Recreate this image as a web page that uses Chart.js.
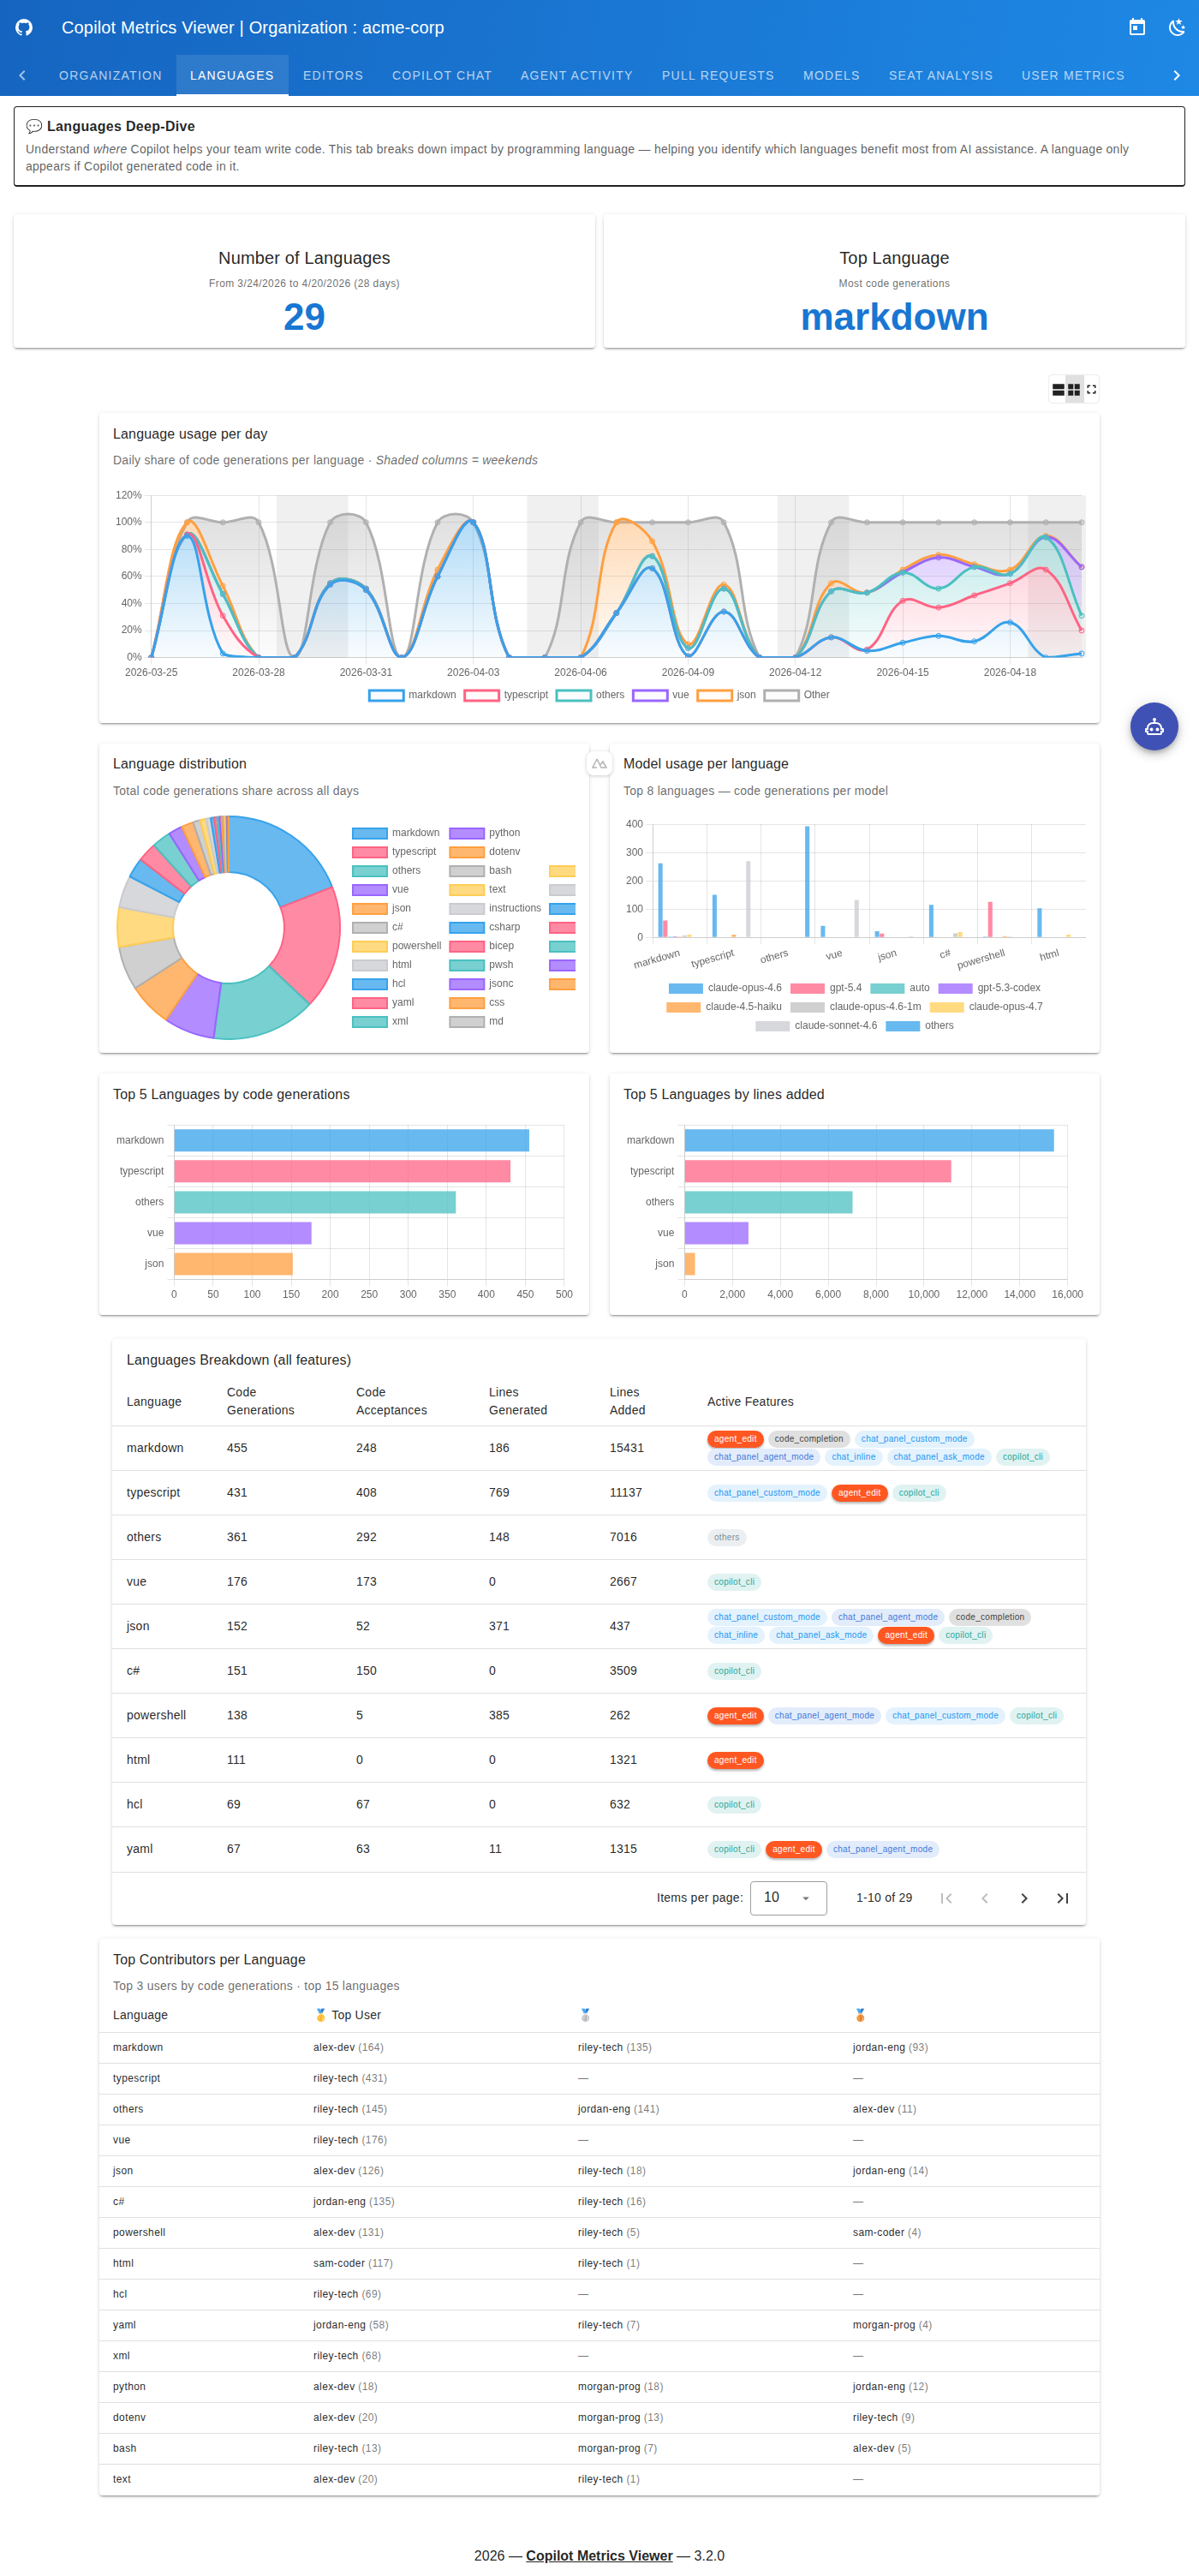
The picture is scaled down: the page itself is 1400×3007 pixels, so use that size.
<!DOCTYPE html>
<html>
<head>
<meta charset="utf-8">
<title>Copilot Metrics Viewer</title>
<script src="https://cdn.jsdelivr.net/npm/chart.js@4"></script>
<style>
html, body { margin: 0; padding: 0; background: #fff; }
body { position: relative; width: 1400px; height: 3007px; overflow: hidden; font-family: "Liberation Sans", sans-serif; color: rgba(0,0,0,.87); }
.abs { position: absolute; white-space: nowrap; }
.card { position: absolute; background: #fff; border-radius: 4px; box-shadow: 0 3px 1px -2px rgba(0,0,0,.2), 0 2px 2px 0 rgba(0,0,0,.14), 0 1px 5px 0 rgba(0,0,0,.12); }
.title { position: absolute; white-space: nowrap; font-size: 16px; letter-spacing: .15px; line-height: 24px; transform: translateY(-12px); }
.sub { position: absolute; white-space: nowrap; font-size: 14px; letter-spacing: .25px; line-height: 20px; color: rgba(0,0,0,.6); transform: translateY(-10px); }
canvas { position: absolute; }
#appbar { position: absolute; left: 0; top: 0; width: 1400px; height: 112px; background: linear-gradient(100deg, #1565c0, #1e88e5); }
.tab { position: absolute; top: 64px; height: 48px; line-height: 49px; font-size: 14px; font-weight: 400; letter-spacing: 1.25px; color: rgba(255,255,255,.7); white-space: nowrap; }
svg.ic { position: absolute; fill: currentColor; }
.kpi-t { position: absolute; text-align: center; font-size: 20px; line-height: 28px; letter-spacing: .15px; }
.kpi-s { position: absolute; text-align: center; font-size: 12px; line-height: 16px; color: rgba(0,0,0,.6); letter-spacing: .4px; }
.kpi-v { position: absolute; text-align: center; font-size: 44px; line-height: 56px; font-weight: 700; color: #1976d2; }
.row-line { position: absolute; height: 1px; background: #e0e0e0; }
.cell { position: absolute; white-space: nowrap; font-size: 14px; line-height: 20px; letter-spacing: .25px; }
.chips { position: absolute; left: 826px; width: 430px; display: flex; flex-wrap: wrap; gap: 1px 5px; }
.chip { height: 20px; line-height: 20px; padding: 0 8px; border-radius: 10px; font-size: 10px; letter-spacing: .3px; white-space: nowrap; box-sizing: border-box; }
.c2 { position: absolute; white-space: nowrap; font-size: 12px; line-height: 16px; letter-spacing: .4px; }
.c2 span { color: rgba(0,0,0,.55); }
</style>
</head>
<body>

<div id="appbar" style="color:#fff">
  <svg class="ic" style="left:16px;top:20px" width="24" height="24" viewBox="0 0 24 24"><path d="M12,2A10,10 0 0,0 2,12C2,16.42 4.87,20.17 8.84,21.5C9.34,21.58 9.5,21.27 9.5,21C9.5,20.77 9.5,20.14 9.5,19.31C6.73,19.91 6.14,17.97 6.14,17.97C5.68,16.81 5.03,16.5 5.03,16.5C4.12,15.88 5.1,15.9 5.1,15.9C6.1,15.97 6.63,16.93 6.63,16.93C7.5,18.45 8.97,18 9.54,17.76C9.63,17.11 9.89,16.67 10.17,16.42C7.95,16.17 5.62,15.31 5.62,11.5C5.62,10.39 6,9.5 6.65,8.79C6.55,8.54 6.2,7.5 6.75,6.15C6.75,6.15 7.59,5.88 9.5,7.17C10.29,6.95 11.15,6.84 12,6.84C12.85,6.84 13.71,6.95 14.5,7.17C16.41,5.88 17.25,6.15 17.25,6.15C17.8,7.5 17.45,8.54 17.35,8.79C18,9.5 18.38,10.39 18.38,11.5C18.38,15.32 16.04,16.16 13.81,16.41C14.17,16.72 14.5,17.33 14.5,18.26C14.5,19.6 14.5,20.68 14.5,21C14.5,21.27 14.66,21.59 15.17,21.5C19.14,20.16 22,16.42 22,12A10,10 0 0,0 12,2Z"/></svg>
  <div class="abs" style="left:72px;top:18px;font-size:20px;line-height:28px;letter-spacing:.15px">Copilot Metrics Viewer | Organization : acme-corp</div>
  <svg class="ic" style="left:1316px;top:20px" width="24" height="24" viewBox="0 0 24 24"><path d="M7,10H12V15H7M19,19H5V8H19M19,3H18V1H16V3H8V1H6V3H5C3.89,3 3,3.9 3,5V19A2,2 0 0,0 5,21H19A2,2 0 0,0 21,19V5A2,2 0 0,0 19,3Z"/></svg>
  <svg class="ic" style="left:1363px;top:20px" width="24" height="24" viewBox="0 0 24 24"><path d="M17.75,4.09L15.22,6.03L16.13,9.09L13.5,7.28L10.87,9.09L11.78,6.03L9.25,4.09L12.44,4L13.5,1L14.56,4L17.75,4.09M21.25,11L19.61,12.25L20.2,14.23L18.5,13.06L16.8,14.23L17.39,12.25L15.75,11L17.81,10.95L18.5,9L19.19,10.95L21.25,11M18.97,15.95C19.8,15.87 20.69,17.05 20.16,17.8C19.84,18.25 19.5,18.67 19.08,19.07C15.17,23 8.84,23 4.94,19.07C1.03,15.17 1.03,8.83 4.94,4.93C5.34,4.53 5.76,4.17 6.21,3.85C6.96,3.32 8.14,4.21 8.06,5.04C7.79,7.9 8.75,10.87 10.95,13.06C13.14,15.26 16.1,16.22 18.97,15.95M17.33,17.97C14.5,17.81 11.7,16.64 9.53,14.5C7.36,12.31 6.2,9.5 6.04,6.68C3.23,9.82 3.34,14.64 6.35,17.66C9.37,20.67 14.19,20.78 17.33,17.97Z"/></svg>
  <div style="position:absolute;left:206px;top:64px;width:131px;height:46px;background:rgba(255,255,255,.1);border-bottom:2px solid #fff"></div>
  <svg class="ic" style="left:14px;top:76px;color:rgba(255,255,255,.6)" width="24" height="24" viewBox="0 0 24 24"><path d="M15.41,16.58L10.83,12L15.41,7.41L14,6L8,12L14,18L15.41,16.58Z"/></svg>
  <svg class="ic" style="left:1362px;top:76px" width="24" height="24" viewBox="0 0 24 24"><path d="M8.59,16.58L13.17,12L8.59,7.41L10,6L16,12L10,18L8.59,16.58Z"/></svg>
  <div id="tabs"></div>
</div>

<div style="position:absolute;left:16px;top:124px;width:1366px;height:91px;border:1px solid #212121;border-bottom-width:2px;border-radius:4px">
  <div class="abs" style="left:13px;top:11px;font-size:16px;line-height:24px;font-weight:700;letter-spacing:.3px">💬 Languages Deep-Dive</div>
  <div class="abs" style="left:13px;top:39px;width:1340px;white-space:normal;font-size:14px;line-height:20px;letter-spacing:.25px;color:rgba(0,0,0,.65)">Understand <i>where</i> Copilot helps your team write code. This tab breaks down impact by programming language — helping you identify which languages benefit most from AI assistance. A language only appears if Copilot generated code in it.</div>
</div>

<div class="card" style="left:16px;top:250px;width:679px;height:156px"></div>
<div class="card" style="left:705px;top:250px;width:679px;height:156px"></div>
<div class="kpi-t" style="left:16px;top:287px;width:679px">Number of Languages</div>
<div class="kpi-s" style="left:16px;top:323px;width:679px">From 3/24/2026 to 4/20/2026 (28 days)</div>
<div class="kpi-v" style="left:16px;top:342px;width:679px">29</div>
<div class="kpi-t" style="left:705px;top:287px;width:679px">Top Language</div>
<div class="kpi-s" style="left:705px;top:323px;width:679px">Most code generations</div>
<div class="kpi-v" style="left:705px;top:342px;width:679px">markdown</div>

<div style="position:absolute;left:1225px;top:438px;width:58px;height:32px;border-radius:4px;box-shadow:0 0 2px rgba(0,0,0,.25);color:#212121">
  <div style="position:absolute;left:19px;top:0;width:22px;height:32px;background:#e0e0e0"></div>
  <svg class="ic" style="left:2px;top:8px" width="18" height="18" viewBox="0 0 24 24"><path d="M3 3h18v8H3zm0 10h18v8H3z"/></svg>
  <svg class="ic" style="left:20px;top:8px" width="18" height="18" viewBox="0 0 24 24"><path d="M3 3h8v8H3zm10 0h8v8h-8zM3 13h8v8H3zm10 0h8v8h-8z"/></svg>
  <svg class="ic" style="left:41px;top:8px" width="17" height="17" viewBox="0 0 24 24"><path d="M5,5H10V7H7V10H5V5M14,5H19V10H17V7H14V5M17,14H19V19H14V17H17V14M10,17V19H5V14H7V17H10Z"/></svg>
</div>

<div class="card" style="left:116px;top:482px;width:1168px;height:362px"></div>
<div class="title" style="left:132px;top:507px">Language usage per day</div>
<div class="sub" style="left:132px;top:537px">Daily share of code generations per language · <i>Shaded columns = weekends</i></div>
<canvas id="usageChart" style="left:132px;top:568px;width:1136px;height:260px" width="1136" height="260"></canvas>

<div class="card" style="left:116px;top:868px;width:572px;height:361px"></div>
<div class="title" style="left:132px;top:892px">Language distribution</div>
<div class="sub" style="left:132px;top:923px">Total code generations share across all days</div>
<canvas id="distChart" style="left:132px;top:952px;width:540px;height:262px" width="540" height="262"></canvas>

<div class="card" style="left:712px;top:868px;width:572px;height:361px"></div>
<div class="title" style="left:728px;top:892px">Model usage per language</div>
<div class="sub" style="left:728px;top:923px">Top 8 languages — code generations per model</div>
<canvas id="modelChart" style="left:728px;top:952px;width:540px;height:262px" width="540" height="262"></canvas>

<div style="position:absolute;left:685px;top:877px;width:30px;height:28px;background:#fff;border-radius:8px;box-shadow:0 1px 4px rgba(0,0,0,.2)">
  <svg style="position:absolute;left:6px;top:7px" width="18" height="14" viewBox="0 0 18 14" fill="none" stroke="#b5b5b5" stroke-width="1.6"><path d="M6 2 L1 12 H6 M6 2 L11 12 H17 L13 5 L9.5 9.5"/></svg>
</div>

<div class="card" style="left:116px;top:1253px;width:572px;height:282px"></div>
<div class="title" style="left:132px;top:1278px">Top 5 Languages by code generations</div>
<canvas id="topGenChart" style="left:132px;top:1302px;width:540px;height:220px" width="540" height="220"></canvas>

<div class="card" style="left:712px;top:1253px;width:572px;height:282px"></div>
<div class="title" style="left:728px;top:1278px">Top 5 Languages by lines added</div>
<canvas id="topLinesChart" style="left:728px;top:1302px;width:540px;height:220px" width="540" height="220"></canvas>

<div class="card" style="left:131px;top:1563px;width:1137px;height:684px"></div>
<div class="title" style="left:148px;top:1588px">Languages Breakdown (all features)</div>
<div id="breakdown"></div>

<div class="abs" style="left:767px;top:2205px;font-size:14px;line-height:20px;letter-spacing:.25px">Items per page:</div>
<div style="position:absolute;left:876px;top:2196px;width:88px;height:38px;border:1px solid #9e9e9e;border-radius:4px"></div>
<div class="abs" style="left:892px;top:2204px;font-size:16px;line-height:22px">10</div>
<svg class="ic" style="left:932px;top:2206px;color:#757575" width="18" height="20" viewBox="0 0 24 24"><path d="M7,10L12,15L17,10H7Z"/></svg>
<div class="abs" style="left:1000px;top:2205px;font-size:14px;line-height:20px;letter-spacing:.25px">1-10 of 29</div>
<svg class="ic" style="left:1093px;top:2204px;color:#bdbdbd" width="24" height="24" viewBox="0 0 24 24"><path d="M18.41,16.59L13.82,12L18.41,7.41L17,6L11,12L17,18L18.41,16.59M6,6H8V18H6V6Z"/></svg>
<svg class="ic" style="left:1138px;top:2204px;color:#bdbdbd" width="24" height="24" viewBox="0 0 24 24"><path d="M15.41,16.58L10.83,12L15.41,7.41L14,6L8,12L14,18L15.41,16.58Z"/></svg>
<svg class="ic" style="left:1184px;top:2204px;color:#424242" width="24" height="24" viewBox="0 0 24 24"><path d="M8.59,16.58L13.17,12L8.59,7.41L10,6L16,12L10,18L8.59,16.58Z"/></svg>
<svg class="ic" style="left:1229px;top:2204px;color:#424242" width="24" height="24" viewBox="0 0 24 24"><path d="M5.59,7.41L10.18,12L5.59,16.59L7,18L13,12L7,6L5.59,7.41M16,6H18V18H16V6Z"/></svg>

<div class="card" style="left:116px;top:2263px;width:1168px;height:650px"></div>
<div class="title" style="left:132px;top:2288px">Top Contributors per Language</div>
<div class="sub" style="left:132px;top:2318px">Top 3 users by code generations · top 15 languages</div>
<div id="contributors"></div>

<div class="abs" style="left:0;top:2972px;width:1400px;text-align:center;font-size:16px;line-height:24px">2026 — <b style="text-decoration:underline">Copilot Metrics Viewer</b> — 3.2.0</div>

<div style="position:absolute;left:1320px;top:820px;width:56px;height:56px;border-radius:50%;background:#3f51b5;box-shadow:0 3px 5px -1px rgba(0,0,0,.2),0 6px 10px 0 rgba(0,0,0,.14),0 1px 18px 0 rgba(0,0,0,.12);color:#fff">
  <svg class="ic" style="left:16px;top:16px" width="24" height="24" viewBox="0 0 24 24"><path d="M17.5 15.5C17.5 16.61 16.61 17.5 15.5 17.5S13.5 16.61 13.5 15.5 14.4 13.5 15.5 13.5 17.5 14.4 17.5 15.5M8.5 13.5C7.4 13.5 6.5 14.4 6.5 15.5S7.4 17.5 8.5 17.5 10.5 16.61 10.5 15.5 9.61 13.5 8.5 13.5M23 15V18C23 18.55 22.55 19 22 19H21V20C21 21.11 20.11 22 19 22H5C3.89 22 3 21.11 3 20V19H2C1.45 19 1 18.55 1 18V15C1 14.45 1.45 14 2 14H3C3 10.13 6.13 7 10 7H11V5.73C10.4 5.39 10 4.74 10 4C10 2.9 10.9 2 12 2S14 2.9 14 4C14 4.74 13.6 5.39 13 5.73V7H14C17.87 7 21 10.13 21 14H22C22.55 14 23 14.45 23 15M21 16H19V14C19 11.24 16.76 9 14 9H10C7.24 9 5 11.24 5 14V16H3V17H5V20H19V17H21V16Z"/></svg>
</div>

<script>
// data

const tabNames = ['ORGANIZATION', 'LANGUAGES', 'EDITORS', 'COPILOT CHAT', 'AGENT ACTIVITY', 'PULL REQUESTS', 'MODELS', 'SEAT ANALYSIS', 'USER METRICS'];
const tabLefts = [69, 222, 354, 458, 608, 773, 938, 1038, 1193];

const days = ['2026-03-25','2026-03-26','2026-03-27','2026-03-28','2026-03-29','2026-03-30','2026-03-31','2026-04-01','2026-04-02','2026-04-03','2026-04-04','2026-04-05','2026-04-06','2026-04-07','2026-04-08','2026-04-09','2026-04-10','2026-04-11','2026-04-12','2026-04-13','2026-04-14','2026-04-15','2026-04-16','2026-04-17','2026-04-18','2026-04-19','2026-04-20'];
const shareMarkdown =   [0,90,3,0,0,54,50,0,60,100,0,0,0,33,66,1,34,0,0,15,5,11,16,12,26,0,3];
const shareTypescript = [0,1,28,0,0,0,0,0,0,0,0,0,0,0,0,0,0,0,0,0,1,31,21,34,29,65,17];
const shareOthers =     [0,0,16,0,0,1,1,0,0,0,0,0,0,0,9,6,17,0,0,34,42,21,14,21,7,24,11];
const shareVue =        [0,0,0,0,0,0,0,0,0,0,0,0,0,0,0,0,0,0,0,0,0,0,23,0,0,0,36];
const shareJson =       [0,9,6,0,0,0,0,0,5,0,0,0,0,67,11,3,3,0,0,6,0,2,2,2,3,1,0];
const shareOther =      [0,0,47,100,0,45,49,0,35,0,0,0,100,0,14,90,46,0,0,45,52,35,24,31,35,10,33];
// first shaded day of each weekend, as an index into days
const weekendStarts = [4, 11, 18, 25];

const distLabels = ['markdown','typescript','others','vue','json','c#','powershell','html','hcl','yaml','xml','python','dotenv','bash','text','instructions','csharp','bicep','pwsh','jsonc','css','md','toml','sql','dockerfile','tsx','ini','javascript','shell'];
const distValues = [455,431,361,176,152,151,138,111,69,67,66,48,42,25,21,16,12,10,8,7,6,5,4,3,2,2,1,1,1];

const modelLangs = ['markdown','typescript','others','vue','json','c#','powershell','html'];
const modelOpus46 =  [262,151,0,41,22,115,3,103];
const modelGpt54 =   [60,0,0,0,14,0,126,0];
const modelAuto =    [3,0,0,0,0,0,0,0];
const modelCodex =   [4,0,0,0,0,0,0,0];
const modelHaiku =   [3,10,0,0,2,0,5,0];
const modelOpus1m =  [7,0,0,0,0,15,3,0];
const modelOpus47 =  [10,0,0,0,0,19,0,10];
const modelSonnet =  [0,270,0,133,4,0,0,0];
const modelOthers =  [0,0,393,0,0,0,0,0];

const topLangs = ['markdown','typescript','others','vue','json'];
const topGenerations = [455,431,361,176,152];
const topLinesAdded = [15431,11137,7016,2667,437];

const breakdownLangs = ['markdown','typescript','others','vue','json','c#','powershell','html','hcl','yaml'];
const breakdownGen = [455,431,361,176,152,151,138,111,69,67];
const breakdownAcc = [248,408,292,173,52,150,5,0,67,63];
const breakdownLinesGen = [186,769,148,0,371,0,385,0,0,11];
const breakdownLinesAdd = [15431,11137,7016,2667,437,3509,262,1321,632,1315];
const breakdownFeatures = [
  ['agent_edit','code_completion','chat_panel_custom_mode','chat_panel_agent_mode','chat_inline','chat_panel_ask_mode','copilot_cli'],
  ['chat_panel_custom_mode','agent_edit','copilot_cli'],
  ['others'],
  ['copilot_cli'],
  ['chat_panel_custom_mode','chat_panel_agent_mode','code_completion','chat_inline','chat_panel_ask_mode','agent_edit','copilot_cli'],
  ['copilot_cli'],
  ['agent_edit','chat_panel_agent_mode','chat_panel_custom_mode','copilot_cli'],
  ['agent_edit'],
  ['copilot_cli'],
  ['copilot_cli','agent_edit','chat_panel_agent_mode']
];

const contribLangs = ['markdown','typescript','others','vue','json','c#','powershell','html','hcl','yaml','xml','python','dotenv','bash','text'];
const contribFirst = ['alex-dev (164)','riley-tech (431)','riley-tech (145)','riley-tech (176)','alex-dev (126)','jordan-eng (135)','alex-dev (131)','sam-coder (117)','riley-tech (69)','jordan-eng (58)','riley-tech (68)','alex-dev (18)','alex-dev (20)','riley-tech (13)','alex-dev (20)'];
const contribSecond = ['riley-tech (135)','—','jordan-eng (141)','—','riley-tech (18)','riley-tech (16)','riley-tech (5)','riley-tech (1)','—','riley-tech (7)','—','morgan-prog (18)','morgan-prog (13)','morgan-prog (7)','riley-tech (1)'];
const contribThird = ['jordan-eng (93)','—','alex-dev (11)','—','jordan-eng (14)','—','sam-coder (4)','—','—','morgan-prog (4)','—','jordan-eng (12)','riley-tech (9)','alex-dev (5)','—'];

// colours

const palette = ['54,162,235','255,99,132','75,192,192','153,102,255','255,159,64','176,176,176','255,205,86','201,203,207'];
function rgba(c, a) { return 'rgba(' + c + ',' + a + ')'; }
// the dark grey slot is paler than the others when filled
function barFill(i) { return rgba(palette[i % 8], i % 8 == 5 ? 0.6 : 0.75); }

const chipStyles = {
  agent_edit: 'background:#ff5722;color:#fff;box-shadow:0 2px 3px rgba(0,0,0,.3)',
  code_completion: 'background:#e0e0e0;color:#424242',
  chat_panel_custom_mode: 'background:#e3f2fd;color:#2196f3',
  chat_panel_agent_mode: 'background:#e3ecfb;color:#3f78d8',
  chat_inline: 'background:#e3f2fd;color:#2196f3',
  chat_panel_ask_mode: 'background:#e3f2fd;color:#2196f3',
  copilot_cli: 'background:#e0f2f1;color:#26a69a',
  others: 'background:#eceff1;color:#78909c'
};

// html parts

let tabsHtml = '';
for (let i = 0; i < tabNames.length; i++) {
  let extra = i == 1 ? 'color:#fff;' : '';
  tabsHtml += '<div class="tab" style="' + extra + 'left:' + tabLefts[i] + 'px">' + tabNames[i] + '</div>';
}
document.getElementById('tabs').innerHTML = tabsHtml;

function cell(left, centerY, text) {
  return '<div class="cell" style="left:' + left + 'px;top:' + (centerY - 10) + 'px">' + text + '</div>';
}

const colLefts = [148, 265, 416, 571, 712];
let html = '';
html += cell(colLefts[0], 1636, 'Language');
html += cell(colLefts[1], 1625, 'Code') + cell(colLefts[1], 1646, 'Generations');
html += cell(colLefts[2], 1625, 'Code') + cell(colLefts[2], 1646, 'Acceptances');
html += cell(colLefts[3], 1625, 'Lines') + cell(colLefts[3], 1646, 'Generated');
html += cell(colLefts[4], 1625, 'Lines') + cell(colLefts[4], 1646, 'Added');
html += cell(826, 1636, 'Active Features');
html += '<div class="row-line" style="left:131px;width:1137px;top:1664px"></div>';
for (let i = 0; i < breakdownLangs.length; i++) {
  let mid = 1690 + i * 52;
  html += cell(colLefts[0], mid, breakdownLangs[i]);
  html += cell(colLefts[1], mid, breakdownGen[i]);
  html += cell(colLefts[2], mid, breakdownAcc[i]);
  html += cell(colLefts[3], mid, breakdownLinesGen[i]);
  html += cell(colLefts[4], mid, breakdownLinesAdd[i]);
  let chipsTop = breakdownFeatures[i].length > 4 ? mid - 20 : mid - 9;
  html += '<div class="chips" style="top:' + chipsTop + 'px">';
  for (let f of breakdownFeatures[i]) {
    html += '<div class="chip" style="' + chipStyles[f] + '">' + f + '</div>';
  }
  html += '</div>';
  html += '<div class="row-line" style="left:131px;width:1137px;top:' + (1716 + i * 52 + (i == 9 ? 1 : 0)) + 'px"></div>';
}
document.getElementById('breakdown').innerHTML = html;

function personCell(left, centerY, text) {
  let m = text.match(/^(.*) (\(.*\))$/);
  let inner = m ? m[1] + ' <span>' + m[2] + '</span>' : '<span>' + text + '</span>';
  return '<div class="c2" style="left:' + left + 'px;top:' + (centerY - 8) + 'px">' + inner + '</div>';
}

const c2Lefts = [132, 366, 675, 996];
html = '';
html += cell(c2Lefts[0], 2352, 'Language');
html += cell(c2Lefts[1], 2352, '🥇 Top User');
html += cell(c2Lefts[2], 2352, '🥈');
html += cell(c2Lefts[3], 2352, '🥉');
html += '<div class="row-line" style="left:116px;width:1168px;top:2372px"></div>';
for (let i = 0; i < contribLangs.length; i++) {
  let mid = 2390 + i * 36;
  html += '<div class="c2" style="left:132px;top:' + (mid - 8) + 'px">' + contribLangs[i] + '</div>';
  html += personCell(c2Lefts[1], mid, contribFirst[i]);
  html += personCell(c2Lefts[2], mid, contribSecond[i]);
  html += personCell(c2Lefts[3], mid, contribThird[i]);
  if (i < contribLangs.length - 1) {
    html += '<div class="row-line" style="left:116px;width:1168px;top:' + (2408 + i * 36) + 'px"></div>';
  }
}
document.getElementById('contributors').innerHTML = html;

// charts

Chart.defaults.animation = false;
Chart.defaults.responsive = false;
Chart.defaults.color = '#666';
Chart.defaults.font.family = '"Liberation Sans", sans-serif';

// fill fades from the top of the plot down to nearly nothing
function fadeFill(color) {
  return function(ctx) {
    let area = ctx.chart.chartArea;
    if (!area) return rgba(color, 0.1);
    let g = ctx.chart.ctx.createLinearGradient(0, area.top, 0, area.bottom);
    g.addColorStop(0, rgba(color, 0.45));
    g.addColorStop(1, rgba(color, 0.03));
    return g;
  };
}

function lineSet(label, data, color, fill) {
  return {
    label: label,
    data: data,
    borderColor: 'rgb(' + color + ')',
    backgroundColor: fadeFill(color),
    borderWidth: 3,
    pointBorderWidth: 1,
    tension: 0.4,
    fill: fill
  };
}

const weekendShade = {
  id: 'weekendShade',
  beforeDatasetsDraw(chart) {
    let x = chart.scales.x;
    let area = chart.chartArea;
    let c = chart.ctx;
    c.save();
    c.fillStyle = 'rgba(0,0,0,0.06)';
    for (let start of weekendStarts) {
      let left = x.getPixelForValue(start - 0.5);
      let right = x.getPixelForValue(start + 1.5);
      c.fillRect(left, area.top, right - left, area.bottom - area.top);
    }
    c.restore();
  }
};

new Chart(document.getElementById('usageChart'), {
  type: 'line',
  data: {
    labels: days,
    datasets: [
      lineSet('markdown', shareMarkdown, palette[0], 'origin'),
      lineSet('typescript', shareTypescript, palette[1], '-1'),
      lineSet('others', shareOthers, palette[2], '-1'),
      lineSet('vue', shareVue, palette[3], '-1'),
      lineSet('json', shareJson, palette[4], '-1'),
      lineSet('Other', shareOther, palette[5], '-1')
    ]
  },
  plugins: [weekendShade],
  options: {
    plugins: { legend: { position: 'bottom' } },
    scales: {
      x: { ticks: { autoSkip: true, maxRotation: 0, callback(v, i) { return i % 3 == 0 ? this.getLabelForValue(v) : null; } } },
      y: { stacked: true, min: 0, max: 120, ticks: { stepSize: 20, callback: v => v + '%' } }
    }
  }
});

new Chart(document.getElementById('distChart'), {
  type: 'doughnut',
  data: {
    labels: distLabels,
    datasets: [{
      data: distValues,
      backgroundColor: distLabels.map((l, i) => barFill(i)),
      borderColor: distLabels.map((l, i) => 'rgb(' + palette[i % 8] + ')'),
      borderWidth: 2
    }]
  },
  options: { plugins: { legend: { position: 'right' } } }
});

function modelSet(label, data, i) {
  return { label: label, data: data, backgroundColor: barFill(i) };
}

new Chart(document.getElementById('modelChart'), {
  type: 'bar',
  data: {
    labels: modelLangs,
    datasets: [
      modelSet('claude-opus-4.6', modelOpus46, 0),
      modelSet('gpt-5.4', modelGpt54, 1),
      modelSet('auto', modelAuto, 2),
      modelSet('gpt-5.3-codex', modelCodex, 3),
      modelSet('claude-4.5-haiku', modelHaiku, 4),
      modelSet('claude-opus-4.6-1m', modelOpus1m, 5),
      modelSet('claude-opus-4.7', modelOpus47, 6),
      modelSet('claude-sonnet-4.6', modelSonnet, 7),
      modelSet('others', modelOthers, 8)
    ]
  },
  options: {
    plugins: { legend: { position: 'bottom' } },
    scales: {
      x: { ticks: { minRotation: 16, maxRotation: 16 } },
      y: { beginAtZero: true, max: 400, ticks: { stepSize: 100 } }
    }
  }
});

function topChart(id, values, maxValue, step) {
  new Chart(document.getElementById(id), {
    type: 'bar',
    data: {
      labels: topLangs,
      datasets: [{ data: values, backgroundColor: topLangs.map((l, i) => rgba(palette[i], 0.75)) }]
    },
    options: {
      indexAxis: 'y',
      plugins: { legend: { display: false } },
      scales: {
        x: { beginAtZero: true, max: maxValue, ticks: { stepSize: step } },
        y: { ticks: { padding: 4 } }
      }
    }
  });
}
topChart('topGenChart', topGenerations, 500, 50);
topChart('topLinesChart', topLinesAdded, 16000, 2000);
</script>
</body>
</html>
